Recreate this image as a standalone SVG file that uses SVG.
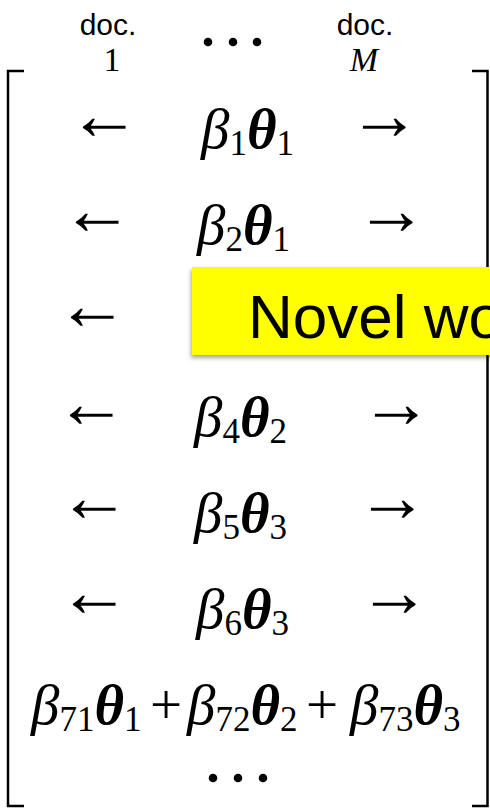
<svg xmlns="http://www.w3.org/2000/svg" width="490" height="808" viewBox="0 0 490 808">
  <style>
    .lbl { font-family: "Liberation Sans", Arial, sans-serif; font-size: 30px; fill: #000; }
    .idx { font-family: "Liberation Serif", "Times New Roman", serif; font-size: 34px; fill: #000; }
    .m { font-family: "Liberation Serif", "Times New Roman", serif; font-size: 57px; fill: #000; }
    .it { font-style: italic; }
    .bi { font-style: italic; font-weight: bold; }
    .sub { font-size: 35px; font-style: normal; font-weight: normal; }
    .arr { font-family: "Liberation Serif", "Times New Roman", serif; font-size: 72px; fill: #000; }
    .brk { fill: none; stroke: #000; stroke-width: 2.5; }
    .dot { fill: #000; }
    .note { font-family: "Liberation Sans", Arial, sans-serif; font-size: 62px; fill: #000; }
  </style>
  <defs>
    <filter id="shadow" x="-10%" y="-20%" width="120%" height="150%">
      <feDropShadow dx="-1" dy="3" stdDeviation="2" flood-color="#000" flood-opacity="0.35"/>
    </filter>
  </defs>

  <!-- column headers -->
  <g id="header">
    <text class="lbl" x="108" y="35" text-anchor="middle">doc.</text>
    <text class="idx" x="112" y="71" text-anchor="middle">1</text>
    <circle class="dot" cx="208" cy="42" r="4.3"/>
    <circle class="dot" cx="233" cy="42" r="4.3"/>
    <circle class="dot" cx="257" cy="42" r="4.3"/>
    <text class="lbl" x="365" y="35" text-anchor="middle">doc.</text>
    <text class="idx it" x="364" y="71" text-anchor="middle">M</text>
  </g>

  <!-- matrix brackets -->
  <g id="brackets">
    <path class="brk" d="M24 71 H8 V806 H24"/>
    <path class="brk" d="M472 71 H487.5 V806 H472"/>
  </g>

  <!-- matrix rows -->
  <g id="row1">
    <text class="arr" x="68" y="139">←</text>
    <text class="m" x="201" y="148"><tspan class="it">β</tspan><tspan class="sub" dy="7">1</tspan><tspan class="bi" dy="-7">θ</tspan><tspan class="sub" dy="7">1</tspan></text>
    <text class="arr" x="348" y="139">→</text>
  </g>
  <g id="row2">
    <text class="arr" x="61" y="234">←</text>
    <text class="m" x="197" y="244"><tspan class="it">β</tspan><tspan class="sub" dy="7">2</tspan><tspan class="bi" dy="-7">θ</tspan><tspan class="sub" dy="7">1</tspan></text>
    <text class="arr" x="355" y="234">→</text>
  </g>
  <g id="row3">
    <text class="arr" x="56" y="329">←</text>
  </g>
  <g id="row4">
    <text class="arr" x="55" y="427">←</text>
    <text class="m" x="194" y="436"><tspan class="it">β</tspan><tspan class="sub" dy="7">4</tspan><tspan class="bi" dy="-7">θ</tspan><tspan class="sub" dy="7">2</tspan></text>
    <text class="arr" x="360" y="427">→</text>
  </g>
  <g id="row5">
    <text class="arr" x="58" y="521">←</text>
    <text class="m" x="194" y="532"><tspan class="it">β</tspan><tspan class="sub" dy="7">5</tspan><tspan class="bi" dy="-7">θ</tspan><tspan class="sub" dy="7">3</tspan></text>
    <text class="arr" x="356" y="521">→</text>
  </g>
  <g id="row6">
    <text class="arr" x="58" y="616">←</text>
    <text class="m" x="196" y="628"><tspan class="it">β</tspan><tspan class="sub" dy="7">6</tspan><tspan class="bi" dy="-7">θ</tspan><tspan class="sub" dy="7">3</tspan></text>
    <text class="arr" x="358" y="616">→</text>
  </g>
  <g id="row7">
    <text class="m" x="31" y="724"><tspan class="it">β</tspan><tspan class="sub" dy="7">71</tspan><tspan class="bi" dy="-7">θ</tspan><tspan class="sub" dy="7">1</tspan></text>
    <text class="m" x="150" y="724">+</text>
    <text class="m" x="187" y="724"><tspan class="it">β</tspan><tspan class="sub" dy="7">72</tspan><tspan class="bi" dy="-7">θ</tspan><tspan class="sub" dy="7">2</tspan></text>
    <text class="m" x="306" y="724">+</text>
    <text class="m" x="350" y="724"><tspan class="it">β</tspan><tspan class="sub" dy="7">73</tspan><tspan class="bi" dy="-7">θ</tspan><tspan class="sub" dy="7">3</tspan></text>
  </g>
  <g id="row8">
    <circle class="dot" cx="213" cy="778" r="4.3"/>
    <circle class="dot" cx="238" cy="778" r="4.3"/>
    <circle class="dot" cx="263" cy="778" r="4.3"/>
  </g>

  <!-- highlighted callout -->
  <g id="callout">
    <rect x="192" y="267" width="310" height="88" fill="#FFFF00" filter="url(#shadow)"/>
    <text class="note" x="248" y="338">Novel wo</text>
  </g>
</svg>
